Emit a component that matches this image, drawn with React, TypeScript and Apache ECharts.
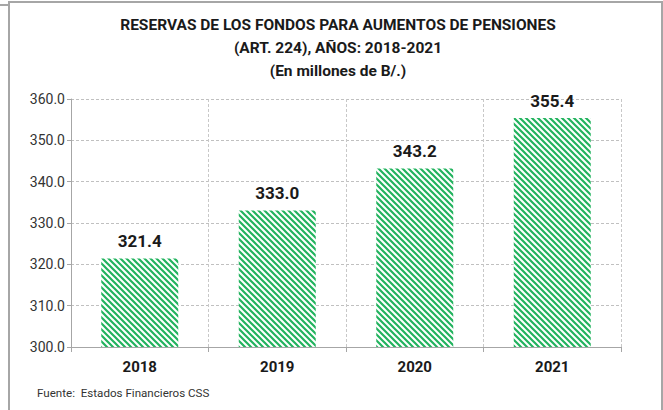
import React, { useEffect, useRef } from "react";
import * as echarts from "echarts";

const categories = ["2018", "2019", "2020", "2021"];
const values = [321.4, 333.0, 343.2, 355.4];
const titleLines = [
  "RESERVAS DE LOS FONDOS PARA AUMENTOS DE PENSIONES",
  "(ART. 224), AÑOS: 2018-2021",
  "(En millones de B/.)",
];
const sourceText = "Fuente:  Estados Financieros CSS";

const FONT = "Roboto, 'Open Sans', sans-serif";

function makePattern() {
  const size = 6;
  const c = document.createElement("canvas");
  c.width = size;
  c.height = size;
  const ctx = c.getContext("2d")!;
  ctx.fillStyle = "#ffffff";
  ctx.fillRect(0, 0, size, size);
  ctx.strokeStyle = "#22b35e";
  ctx.lineWidth = 2.2;
  ctx.beginPath();
  ctx.moveTo(-1, -1);
  ctx.lineTo(size + 1, size + 1);
  ctx.moveTo(-1, size - 1);
  ctx.lineTo(1, size + 1);
  ctx.moveTo(size - 1, -1);
  ctx.lineTo(size + 1, 1);
  ctx.stroke();
  return c;
}

export default function App() {
  const ref = useRef<HTMLDivElement>(null);
  useEffect(() => {
    if (!ref.current) return;
    const chart = echarts.init(ref.current, undefined, { renderer: "svg" });
    const pat = makePattern();
    chart.setOption({
      animation: false,
      backgroundColor: "#ffffff",
      grid: { left: 71, right: 42, top: 99, bottom: 63 },
      xAxis: {
        type: "category",
        data: categories,
        boundaryGap: true,
        axisLine: { lineStyle: { color: "#a6a6a6", width: 1 } },
        axisTick: { show: true, length: 5, lineStyle: { color: "#a6a6a6" } },
        axisLabel: {
          margin: 12,
          fontFamily: FONT,
          fontWeight: "bold",
          fontSize: 15,
          color: "#1a1a1a",
        },
        splitLine: {
          show: true,
          lineStyle: { color: "#c8c8c8", type: [3, 2] },
        },
      },
      yAxis: {
        type: "value",
        min: 300,
        max: 360,
        interval: 10,
        axisLine: { show: true, lineStyle: { color: "#a6a6a6", width: 1 } },
        axisTick: { show: true, length: 4, lineStyle: { color: "#a6a6a6" } },
        axisLabel: {
          margin: 6,
          fontFamily: FONT,
          fontSize: 14,
          color: "#333333",
          formatter: (v: number) => v.toFixed(1),
        },
        splitLine: {
          show: true,
          lineStyle: { color: "#c0c0c0", type: [3, 2] },
        },
      },
      series: [
        {
          type: "bar",
          data: values,
          barCategoryGap: "44%",
          itemStyle: {
            color: { image: pat, repeat: "repeat", imageWidth: 6, imageHeight: 6 } as any,
          },
          label: {
            show: true,
            position: "top",
            distance: 9,
            fontFamily: FONT,
            fontWeight: "bold",
            fontSize: 17,
            color: "#1a1a1a",
            formatter: (p: any) => Number(p.value).toFixed(1),
          },
        },
      ],
      graphic: [
        {
          type: "rect",
          shape: { x: 9, y: 2, width: 653, height: 430 },
          style: { fill: "none", stroke: "#a6a6a6", lineWidth: 2 },
          silent: true,
        },
        {
          type: "line",
          shape: { x1: 0, y1: 5, x2: 9, y2: 5 },
          style: { stroke: "#a6a6a6", lineWidth: 2 },
          silent: true,
        },
        ...titleLines.map((t, i) => ({
          type: "text",
          x: 338,
          y: 25 + i * 23,
          style: {
            text: t,
            textAlign: "center",
            textVerticalAlign: "middle",
            fontFamily: FONT,
            fontWeight: "bold",
            fontSize: 15.5,
            fill: "#1a1a1a",
          },
        })),
        {
          type: "text",
          x: 37,
          y: 393,
          style: {
            text: sourceText,
            textAlign: "left",
            textVerticalAlign: "middle",
            fontFamily: FONT,
            fontSize: 11.6,
            fill: "#333333",
          },
        },
      ],
    });
    return () => chart.dispose();
  }, []);
  return (
    <div
      ref={ref}
      style={{ position: "fixed", left: 0, top: 0, width: 663, height: 410 }}
    />
  );
}
